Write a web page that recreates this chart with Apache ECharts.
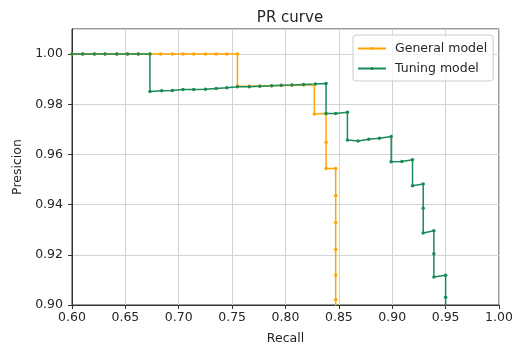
<!DOCTYPE html>
<html>
<head>
<meta charset="utf-8">
<title>PR curve</title>
<script src="https://cdn.jsdelivr.net/npm/echarts@6/dist/echarts.min.js"></script>
<style>
	html, body { margin: 0; padding: 0; background: #fff; }
	#prChartContainer { width: 516px; height: 350px; }
</style>
</head>
<body>
<div id="prChartContainer"></div>
<script>
// General model: recall / precision
var generalRecall = [0.600, 0.610, 0.621, 0.631, 0.642, 0.652, 0.662, 0.673, 0.683, 0.694, 0.704, 0.714, 0.725, 0.735, 0.745, 0.755,
	0.755, 0.766, 0.776, 0.787, 0.796, 0.806, 0.817, 0.827,
	0.827, 0.838, 0.838, 0.838, 0.847, 0.847, 0.847, 0.847, 0.847, 0.847, 0.847];
var generalPrecision = [1, 1, 1, 1, 1, 1, 1, 1, 1, 1, 1, 1, 1, 1, 1, 1,
	0.9872, 0.9872, 0.9873, 0.9874, 0.9875, 0.9876, 0.9877, 0.9878,
	0.9761, 0.9763, 0.9649, 0.9544, 0.9544, 0.9436, 0.9329, 0.9221, 0.9120, 0.9022, 0.895];

// Tuning model
var tuningRecall = [0.600, 0.610, 0.621, 0.631, 0.642, 0.652, 0.662, 0.673,
	0.673, 0.684, 0.694, 0.704, 0.714, 0.725, 0.735, 0.745, 0.755, 0.766, 0.776, 0.787, 0.796, 0.806, 0.817, 0.828, 0.838,
	0.838, 0.847, 0.858,
	0.858, 0.868, 0.878, 0.888, 0.899,
	0.899, 0.909, 0.919,
	0.919, 0.929,
	0.929, 0.929, 0.939,
	0.939, 0.939, 0.950,
	0.950, 0.950];
var tuningPrecision = [1, 1, 1, 1, 1, 1, 1, 1,
	0.9851, 0.9854, 0.9855, 0.9859, 0.9859, 0.9860, 0.9863, 0.9866, 0.9870, 0.9870, 0.9872, 0.9874, 0.9876, 0.9877, 0.9879, 0.9881, 0.9883,
	0.9763, 0.9763, 0.9768,
	0.9658, 0.9654, 0.9661, 0.9665, 0.9672,
	0.9571, 0.9572, 0.9579,
	0.9475, 0.9482,
	0.9386, 0.9287, 0.9296,
	0.9204, 0.9112, 0.9119,
	0.9031, 0.895];

var seriesNames = ['General model', 'Tuning model'];
var seriesColors = ['#ffa500', '#1a8a58'];

var prChart = {
	/**
	 * 把两个数组拼成 [x, y] 点
	 */
	toPoints: function(xs, ys) {
		var pts = [];
		for (var i = 0; i < xs.length; i++) {
			pts.push([xs[i], ys[i]]);
		}
		return pts;
	},
	makeSeries: function(idx, data) {
		return {
			name: seriesNames[idx],
			type: 'line',
			data: data,
			symbol: 'circle',
			symbolSize: 3.5,
			clip: true,
			color: seriesColors[idx],
			lineStyle: { width: 1.5, color: seriesColors[idx] },
			itemStyle: { color: seriesColors[idx] }
		};
	},
	init: function() {
		var myChart = echarts.init(document.getElementById('prChartContainer'));
		var fontName = 'DejaVu Sans';
		var textColor = '#262626';
		var option = {
			animation: false,
			textStyle: { fontFamily: fontName },
			title: {
				text: 'PR curve',
				left: 285,
				textAlign: 'center',
				top: 6,
				textStyle: { fontFamily: fontName, fontSize: 15, fontWeight: 'normal', color: textColor }
			},
			legend: {
				orient: 'vertical',
				left: 353,
				top: 35,
				padding: [6, 6, 5, 4],
				// 图例符号 = itemHeight * 0.8，所以压小
				itemWidth: 28,
				itemHeight: 4,
				itemGap: 5,
				borderColor: '#cccccc',
				borderWidth: 1,
				borderRadius: 3,
				backgroundColor: 'rgba(255,255,255,0.8)',
				textStyle: { fontFamily: fontName, fontSize: 12.5, color: textColor, padding: [0, 0, 0, 4], lineHeight: 15 },
				data: seriesNames
			},
			grid: {
				left: 72,
				right: 17,
				top: 29,
				bottom: 42,
				show: true,
				borderColor: '#333',
				borderWidth: 1
			},
			xAxis: {
				type: 'value',
				min: 0.6,
				max: 1.0,
				interval: 0.05,
				name: 'Recall',
				nameLocation: 'middle',
				nameGap: 27,
				nameTextStyle: { fontFamily: fontName, fontSize: 12.5, color: textColor },
				axisLine: { show: true, lineStyle: { color: '#333' } },
				axisTick: { show: true, length: 4, lineStyle: { color: '#333' } },
				axisLabel: {
					margin: 6,
					fontFamily: fontName, fontSize: 12.5, color: textColor,
					formatter: function(v) { return v.toFixed(2); }
				},
				splitLine: { show: true, lineStyle: { color: '#d3d3d3' } }
			},
			yAxis: {
				type: 'value',
				min: 0.9,
				max: 1.01,
				interval: 0.02,
				name: 'Presicion',
				nameLocation: 'middle',
				nameGap: 47,
				nameTextStyle: { fontFamily: fontName, fontSize: 12.5, color: textColor },
				axisLine: { show: true, lineStyle: { color: '#333' } },
				axisTick: { show: true, length: 4, lineStyle: { color: '#333' } },
				axisLabel: {
					margin: 9,
					showMaxLabel: false,
					fontFamily: fontName, fontSize: 12.5, color: textColor,
					formatter: function(v) { return v.toFixed(2); }
				},
				splitLine: { show: true, lineStyle: { color: '#d3d3d3' } }
			},
			series: [
				prChart.makeSeries(0, prChart.toPoints(generalRecall, generalPrecision)),
				prChart.makeSeries(1, prChart.toPoints(tuningRecall, tuningPrecision))
			]
		};
		myChart.setOption(option);
	}
};

prChart.init();
</script>
</body>
</html>
